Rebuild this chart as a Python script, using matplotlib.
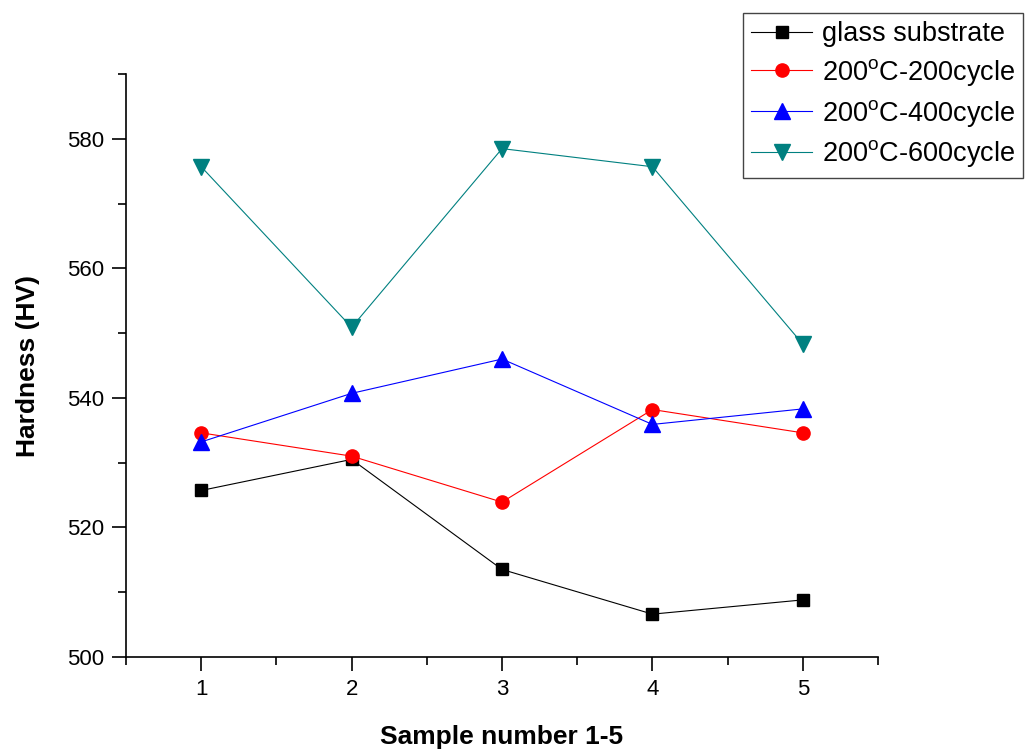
import matplotlib
matplotlib.use("Agg")
import matplotlib.pyplot as plt
from matplotlib.ticker import MultipleLocator

plt.rcParams['font.family'] = ['Liberation Sans', 'DejaVu Sans']
plt.rcParams['mathtext.fontset'] = 'custom'
plt.rcParams['mathtext.rm'] = 'Liberation Sans'

# === data ===
samples = [1, 2, 3, 4, 5]
glass = [525.7, 530.5, 513.5, 506.6, 508.8]
c200 = [534.6, 531.0, 523.9, 538.2, 534.6]
c400 = [533.2, 540.7, 546.0, 535.9, 538.3]
c600 = [575.7, 550.9, 578.5, 575.7, 548.3]

labels = [
    "glass substrate",
    r"200$^{\mathrm{o}}$C-200cycle",
    r"200$^{\mathrm{o}}$C-400cycle",
    r"200$^{\mathrm{o}}$C-600cycle",
]

fig = plt.figure(figsize=(10.33, 7.49), dpi=100)
ax = fig.add_axes([0.122, 0.123, 0.728, 0.778])

ax.plot(samples, glass, color='black', marker='s', ms=8.3, lw=0.8, label=labels[0])
ax.plot(samples, c200, color='red', marker='o', ms=9.5, lw=0.8, label=labels[1])
ax.plot(samples, c400, color='blue', marker='^', ms=12, lw=0.8, label=labels[2])
ax.plot(samples, c600, color='#008080', marker='v', ms=12, lw=0.8, label=labels[3])

ax.set_xlim(0.5, 5.5)
ax.set_ylim(500, 590)
ax.xaxis.set_major_locator(MultipleLocator(1))
ax.xaxis.set_minor_locator(MultipleLocator(0.5))
ax.yaxis.set_major_locator(MultipleLocator(20))
ax.yaxis.set_minor_locator(MultipleLocator(10))
ax.tick_params(which='major', direction='out', length=10, width=1.2, labelsize=16, pad=6)
ax.tick_params(which='minor', direction='out', length=6, width=1.2)

for s in ['top', 'right']:
    ax.spines[s].set_visible(False)
for s in ['left', 'bottom']:
    ax.spines[s].set_linewidth(1.2)

ax.set_xlabel("Sample number 1-5", fontsize=19, fontweight='bold', labelpad=18)
ax.set_ylabel("Hardness (HV)", fontsize=19, fontweight='bold', labelpad=19)

leg = fig.legend(loc='upper right', bbox_to_anchor=(1023 / 1033, 1 - 13 / 749),
                 fontsize=19.5, numpoints=1, handlelength=2.25, fancybox=False,
                 edgecolor='#444444', framealpha=1, borderpad=0.3,
                 labelspacing=0.36, handletextpad=0.35, borderaxespad=0)
leg.get_frame().set_linewidth(1.0)

fig.savefig("out.png", dpi=100)
